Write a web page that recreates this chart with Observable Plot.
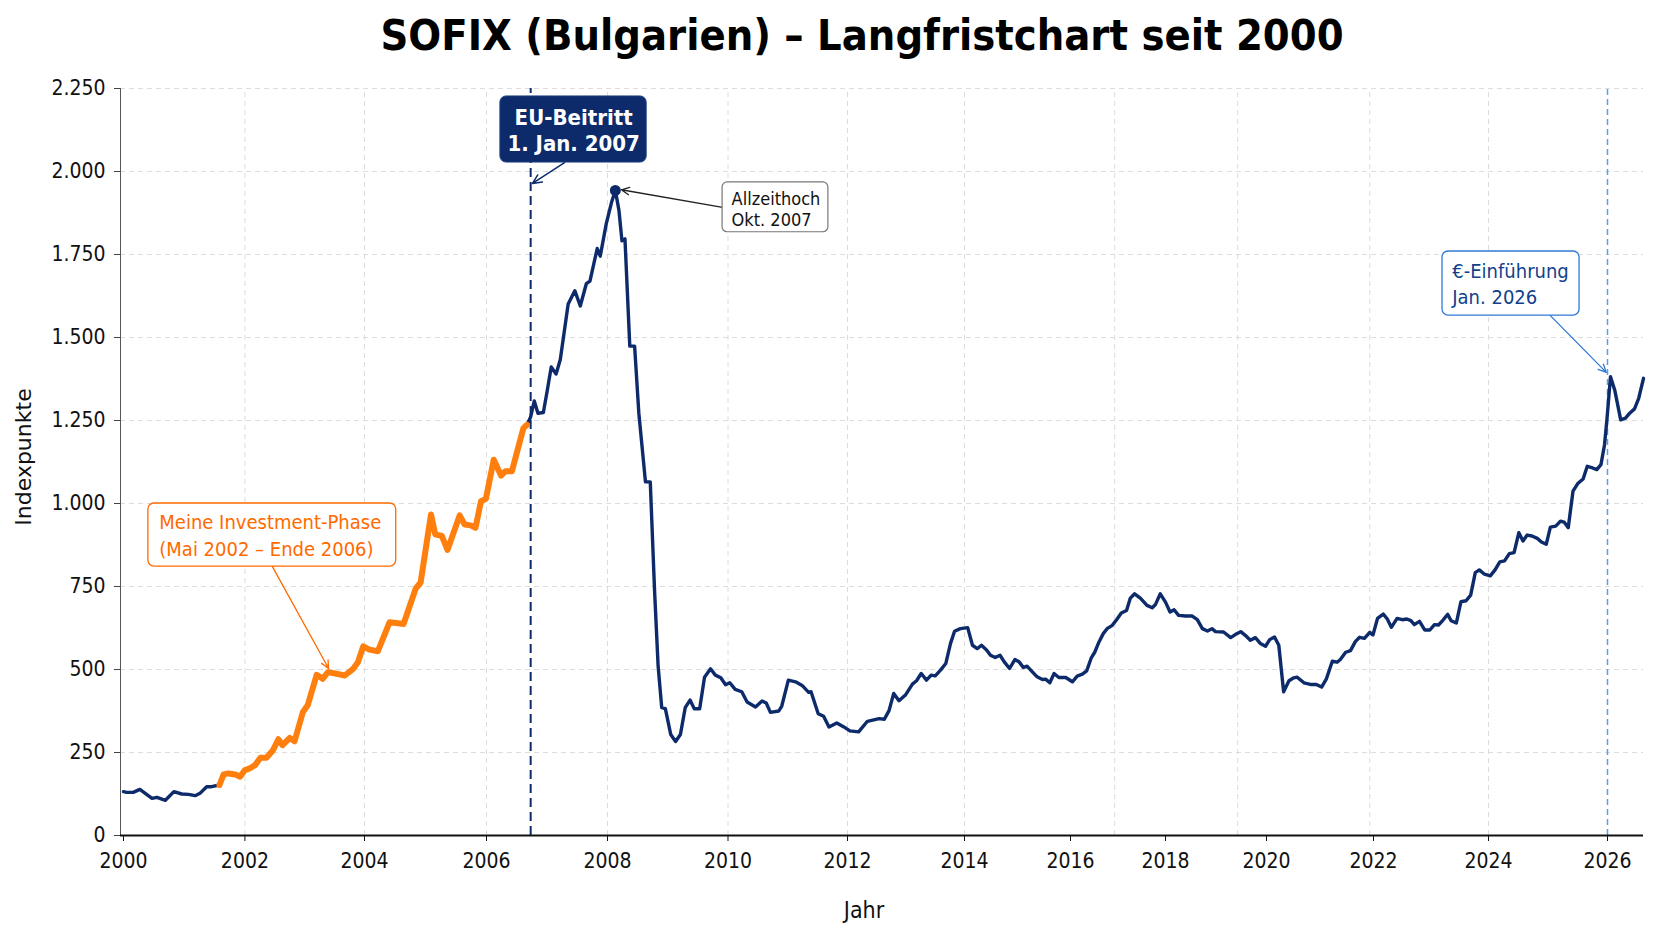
<!DOCTYPE html>
<html><head><meta charset="utf-8">
<script src="https://cdn.jsdelivr.net/npm/d3@7"></script>
<script src="https://cdn.jsdelivr.net/npm/@observablehq/plot@0.6"></script>
<style>
body{margin:0;background:#fff;}
#title{height:70px;position:relative;font-family:"DejaVu Sans Condensed","DejaVu Sans",sans-serif;font-stretch:condensed;font-weight:bold;font-size:43px;color:#000;}
#title span{position:absolute;left:862px;top:14px;transform:translateX(-50%);white-space:nowrap;line-height:1;}
#chart svg{display:block;}
</style></head><body>
<div id="title"><span>SOFIX (Bulgarien) – Langfristchart seit 2000</span></div>
<div id="chart"></div>
<script>
// ---- data (axis year, index points) ----
const years = [
2000.00,2000.05,2000.16,2000.27,2000.38,2000.47,2000.55,2000.69,2000.83,2000.96,
2001.07,2001.18,2001.26,2001.37,2001.45,2001.58,2001.65,2001.73,2001.84,2001.92,
2002.00,2002.08,2002.17,2002.26,2002.36,2002.47,2002.56,2002.63,2002.75,2002.83,
2002.97,2003.05,2003.20,2003.30,2003.39,2003.53,2003.67,2003.81,2003.89,2003.98,
2004.08,2004.22,2004.41,2004.52,2004.64,2004.84,2004.92,2005.09,2005.16,2005.27,
2005.36,2005.56,2005.64,2005.74,2005.82,2005.91,2005.99,2006.12,2006.24,2006.31,
2006.42,2006.61,2006.67,2006.73,2006.79,2006.85,2006.94,2007.00,2007.07,2007.15,
2007.22,2007.35,2007.46,2007.55,2007.65,2007.71,2007.83,2007.88,2007.98,2008.07,
2008.13,2008.19,2008.24,2008.29,2008.37,2008.45,2008.52,2008.63,2008.71,2008.78,
2008.84,2008.90,2008.96,2009.05,2009.13,2009.21,2009.29,2009.37,2009.44,2009.53,
2009.61,2009.71,2009.79,2009.88,2009.96,2010.03,2010.12,2010.23,2010.32,2010.46,
2010.57,2010.64,2010.71,2010.85,2010.90,2011.01,2011.13,2011.24,2011.35,2011.39,
2011.51,2011.60,2011.69,2011.82,2011.94,2012.04,2012.19,2012.34,2012.54,2012.63,
2012.71,2012.79,2012.88,2012.99,2013.11,2013.18,2013.26,2013.35,2013.43,2013.50,
2013.59,2013.68,2013.76,2013.83,2013.93,2014.06,2014.15,2014.24,2014.32,2014.42,
2014.49,2014.58,2014.67,2014.75,2014.85,2014.95,2015.03,2015.11,2015.18,2015.28,
2015.37,2015.47,2015.53,2015.61,2015.69,2015.78,2015.91,2016.04,2016.14,2016.25,
2016.34,2016.44,2016.51,2016.60,2016.69,2016.77,2016.88,2016.97,2017.07,2017.18,
2017.26,2017.35,2017.47,2017.61,2017.72,2017.79,2017.89,2018.00,2018.09,2018.17,
2018.26,2018.40,2018.53,2018.63,2018.73,2018.83,2018.92,2018.99,2019.15,2019.29,
2019.39,2019.49,2019.58,2019.68,2019.78,2019.88,2019.98,2020.06,2020.15,2020.23,
2020.32,2020.42,2020.51,2020.57,2020.70,2020.82,2020.93,2021.03,2021.12,2021.23,
2021.32,2021.38,2021.48,2021.57,2021.66,2021.74,2021.83,2021.93,2021.99,2022.07,
2022.17,2022.24,2022.31,2022.41,2022.50,2022.58,2022.65,2022.71,2022.80,2022.89,
2022.98,2023.06,2023.13,2023.21,2023.29,2023.35,2023.44,2023.52,2023.61,2023.69,
2023.77,2023.84,2023.93,2024.03,2024.11,2024.19,2024.27,2024.35,2024.43,2024.51,
2024.58,2024.65,2024.73,2024.82,2024.89,2024.97,2025.04,2025.13,2025.21,2025.27,
2025.34,2025.42,2025.50,2025.59,2025.66,2025.75,2025.82,2025.89,2025.95,2025.99,
2026.05,2026.12,2026.22,2026.30,2026.37,2026.45,2026.52,2026.60];
const values = [
132,130,130,139,124,112,115,106,132,125,
124,120,127,147,147,152,184,187,184,177,
197,202,212,234,234,257,290,272,294,284,
372,392,484,472,492,487,482,502,522,570,
560,555,642,640,637,744,762,967,907,902,
860,964,937,934,927,1007,1014,1132,1084,1097,
1097,1227,1237,1261,1309,1272,1274,1336,1411,1390,
1434,1601,1641,1595,1662,1670,1768,1745,1843,1909,
1943,1883,1791,1797,1474,1474,1272,1065,1065,742,
511,385,382,304,283,304,385,408,382,382,
477,502,483,475,454,460,440,433,402,387,
405,399,371,375,390,468,463,452,431,433,
367,359,327,339,327,315,312,344,352,350,
376,428,406,423,456,466,488,468,483,481,
498,518,578,615,623,626,573,563,573,558,
543,536,543,523,503,530,523,506,510,493,
478,470,471,460,488,476,476,463,480,486,
496,536,552,583,608,623,633,650,670,678,
715,728,715,693,686,696,728,703,673,680,
663,661,661,650,623,616,623,614,613,596,
606,614,603,588,596,578,570,590,598,573,
433,466,475,477,460,455,455,447,472,525,
522,530,552,557,584,597,594,612,604,654,
667,652,627,654,650,652,647,635,645,619,
619,635,634,649,666,647,640,704,707,724,
792,800,787,782,800,824,827,849,852,912,
887,905,902,895,884,877,929,932,947,944,
927,1037,1060,1074,1112,1107,1102,1117,1177,1252,
1382,1342,1252,1257,1272,1285,1317,1377];
const investStart = 2001.58, investEnd = 2006.67;
const euDate = 2006.73, euroDate = 2026.0;
const xTicks = [2000,2002,2004,2006,2008,2010,2012,2014,2016,2018,2020,2022,2024,2026];
const xGrid = [2002,2004,2006,2008,2010,2012,2014,2016.93,2019.43,2021.93,2024];
const yTicks = [0,250,500,750,1000,1250,1500,1750,2000,2250];

// ---- scale configuration (non-uniform axis of the reference) ----
const xDomain = [1999.95, ...xTicks, 2026.6];
const xRange = [120, 123, 244.4, 364, 486, 607, 727.5, 847, 964, 1070, 1165, 1266, 1373, 1488, 1607, 1643];

const rows = years.map((x, i) => ({x, v: values[i]}));
const invest = rows.filter(d => d.x >= investStart && d.x <= investEnd);
const peak = rows.reduce((a, b) => (b.v > a.v ? b : a));

const navy = "#0d2b6b";
const orange = "#ff7f0e";
const orangeText = "#ff6a00";
const euroBlue = "#2f7ad6";
const cond = "DejaVu Sans Condensed, DejaVu Sans, sans-serif";
const de = d3.formatLocale({decimal: ",", thousands: ".", grouping: [3], currency: ["", "€"]}).format(",");
const X0 = xDomain[0], X1 = xDomain[xDomain.length - 1];

const grid = {stroke: "#dcdcdc", strokeWidth: 1, strokeDasharray: "5,4"};

const chart = Plot.plot({
  width: 1672,
  height: 871,
  marginLeft: 120,
  marginRight: 29,
  marginTop: 18,
  marginBottom: 106,
  style: {fontFamily: cond, fontSize: "21px", color: "#111", background: "#fff"},
  x: {type: "linear", domain: xDomain, range: xRange},
  y: {domain: [0, 2250]},
  marks: [
    Plot.ruleY(yTicks.slice(1), {x1: X0, x2: X1, ...grid}),
    Plot.ruleX(xGrid, {y1: 0, y2: 2250, ...grid}),
    Plot.ruleX([euDate], {y1: 0, y2: 2250, stroke: navy, strokeWidth: 2, strokeDasharray: "9,5"}),
    Plot.ruleX([euroDate], {y1: 0, y2: 2250, stroke: "#5a9de8", strokeWidth: 1.5, strokeDasharray: "6,4"}),
    Plot.line(rows, {x: "x", y: "v", stroke: navy, strokeWidth: 3.4, strokeLinejoin: "round"}),
    Plot.line(invest, {x: "x", y: "v", stroke: orange, strokeWidth: 6, strokeLinejoin: "round", strokeLinecap: "round"}),
    Plot.dot([peak], {x: "x", y: "v", r: 5.5, fill: navy}),
    Plot.ruleX([X0], {y1: 0, y2: 2250, stroke: "#555", strokeWidth: 1}),
    Plot.ruleY([0], {x1: X0, x2: X1, stroke: "#111", strokeWidth: 2}),
    Plot.axisY(yTicks, {tickSize: 6, tickPadding: 9, fontSize: 21, tickFormat: de, label: null, stroke: "#444"}),
    Plot.axisX(xTicks, {tickSize: 6, tickPadding: 12, fontSize: 21, tickFormat: d => String(d), label: null, stroke: "#111"}),
    Plot.text(["Jahr"], {frameAnchor: "bottom", dx: -18, dy: 82, lineAnchor: "bottom", fontSize: 23, fontFamily: cond}),
    Plot.text(["Indexpunkte"], {frameAnchor: "left", dx: -97, dy: -5, rotate: -90, textAnchor: "middle", lineAnchor: "middle", fontSize: 22, fontFamily: "DejaVu Sans, sans-serif"}),

    // EU-Beitritt
    Plot.arrow([0], {x1: 2007.29, y1: 2027, x2: 2006.76, y2: 1964, stroke: navy, strokeWidth: 1.5, headLength: 10, headAngle: 50}),
    Plot.rect([0], {x1: 2006.23, x2: 2008.65, y1: 2027, y2: 2226, rx: 6, fill: navy, stroke: "#1a3d80"}),
    Plot.text(["EU-Beitritt"], {x: 2007.44, y: 2139, lineAnchor: "bottom", fill: "white", fontWeight: "bold", fontSize: 22, fontFamily: cond}),
    Plot.text(["1. Jan. 2007"], {x: 2007.44, y: 2063, lineAnchor: "bottom", fill: "white", fontWeight: "bold", fontSize: 22, fontFamily: cond}),

    // Allzeithoch
    Plot.arrow([0], {x1: 2009.91, y1: 1892, x2: 2008.23, y2: 1945, stroke: "#222", strokeWidth: 1.3, headLength: 10, headAngle: 50}),
    Plot.rect([0], {x1: 2009.91, x2: 2011.68, y1: 1817, y2: 1967, rx: 5, fill: "white", stroke: "#777", strokeWidth: 1.2}),
    Plot.text(["Allzeithoch"], {x: 2010.06, y: 1900, textAnchor: "start", lineAnchor: "bottom", fill: "#111", fontSize: 18, fontFamily: cond}),
    Plot.text(["Okt. 2007"], {x: 2010.06, y: 1837, textAnchor: "start", lineAnchor: "bottom", fill: "#111", fontSize: 18, fontFamily: cond}),

    // Investment-Phase
    Plot.arrow([0], {x1: 2002.46, y1: 810, x2: 2003.40, y2: 503, stroke: orangeText, strokeWidth: 1.3, headLength: 10, headAngle: 50}),
    Plot.rect([0], {x1: 2000.41, x2: 2004.52, y1: 810, y2: 1000, rx: 6, fill: "white", stroke: orangeText, strokeWidth: 1.3}),
    Plot.text(["Meine Investment-Phase"], {x: 2000.59, y: 922, textAnchor: "start", lineAnchor: "bottom", fill: orangeText, fontSize: 20, fontFamily: cond}),
    Plot.text(["(Mai 2002 – Ende 2006)"], {x: 2000.59, y: 843, textAnchor: "start", lineAnchor: "bottom", fill: orangeText, fontSize: 20, fontFamily: cond}),

    // Euro-Einführung
    Plot.arrow([0], {x1: 2025.04, y1: 1566, x2: 2025.98, y2: 1395, stroke: euroBlue, strokeWidth: 1.3, headLength: 10, headAngle: 50}),
    Plot.rect([0], {x1: 2023.2, x2: 2025.53, y1: 1566, y2: 1759, rx: 6, fill: "white", stroke: euroBlue, strokeWidth: 1.3}),
    Plot.text(["€-Einführung"], {x: 2023.37, y: 1678, textAnchor: "start", lineAnchor: "bottom", fill: "#123f8c", fontSize: 20, fontFamily: cond}),
    Plot.text(["Jan. 2026"], {x: 2023.37, y: 1602, textAnchor: "start", lineAnchor: "bottom", fill: "#123f8c", fontSize: 20, fontFamily: cond})
  ]
});
document.getElementById("chart").appendChild(chart);
</script>
</body></html>
